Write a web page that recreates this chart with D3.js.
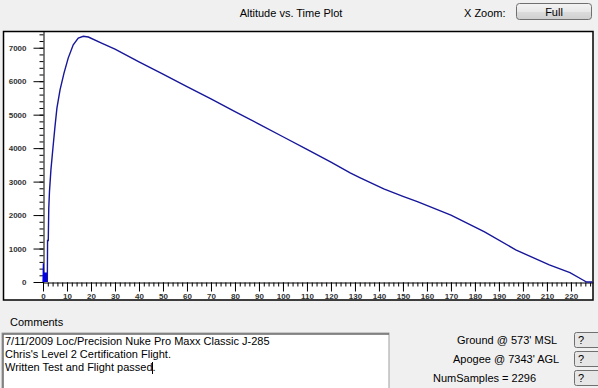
<!DOCTYPE html>
<html>
<head>
<meta charset="utf-8">
<script src="https://cdn.jsdelivr.net/npm/d3@7"></script>
<style>
  body { margin: 0; background: #f0f0f0; }
  svg { display: block; }
</style>
</head>
<body>
<div id="container"></div>
<script>
// flight data (seconds, feet AGL)
let times = [0, 0.15, 0.3, 0.45, 0.6, 0.75, 0.9, 1.05, 1.2, 1.35, 1.5, 1.65, 1.8,
  1.9, 2.2, 2.4, 2.7, 3.3, 4.2, 5.0, 5.8, 7.1, 8.75, 10.5, 12.6, 14.7, 16.8, 18.9,
  24.4, 30, 40, 50, 60, 70, 80, 90, 100, 110, 120, 128, 132, 142, 150, 156, 170,
  184, 197, 211, 219.6, 225, 226.5, 229];
let altitudes = [0, 560, 0, 280, 0, 280, 0, 280, 0, 280, 0, 280, 0,
  1240, 1240, 2200, 2700, 3350, 4050, 4650, 5195, 5740, 6240, 6690, 7090, 7290, 7343, 7320,
  7140, 6960, 6580, 6210, 5840, 5470, 5090, 4720, 4340, 3960, 3580, 3260, 3120, 2780, 2560, 2400, 2000,
  1500, 960, 510, 280, 60, 0, 0];

let xTickLabels = [0, 10, 20, 30, 40, 50, 60, 70, 80, 90, 100, 110, 120, 130, 140, 150, 160, 170, 180, 190, 200, 210, 220];
let yTickLabels = [0, 1000, 2000, 3000, 4000, 5000, 6000, 7000];

let comments = [
  "7/11/2009 Loc/Precision Nuke Pro Maxx Classic J-285",
  "Chris's Level 2 Certification Flight.",
  "Written Test and Flight passed."
];
let statLines = ["Ground @ 573' MSL", "Apogee @ 7343' AGL", "NumSamples = 2296"];

let uiFont = "'Liberation Sans', Arial, sans-serif";
let lineBlue = "#16169a";

let viz = d3.select("#container")
  .append("svg")
    .attr("width", 598)
    .attr("height", 388)
    .style("background-color", "#f0f0f0")
;

// header
viz.append("text")
  .text("Altitude vs. Time Plot")
  .attr("x", 291)
  .attr("y", 17)
  .attr("text-anchor", "middle")
  .attr("font-family", uiFont)
  .attr("font-size", 11)
;
viz.append("text")
  .text("X Zoom:")
  .attr("x", 464)
  .attr("y", 17)
  .attr("font-family", uiFont)
  .attr("font-size", 11)
;

let grad = viz.append("defs").append("linearGradient")
  .attr("id", "btn")
  .attr("x1", 0).attr("y1", 0).attr("x2", 0).attr("y2", 1);
grad.append("stop").attr("offset", "0%").attr("stop-color", "#f4f4f4");
grad.append("stop").attr("offset", "50%").attr("stop-color", "#e8e8e8");
grad.append("stop").attr("offset", "51%").attr("stop-color", "#dcdcdc");
grad.append("stop").attr("offset", "100%").attr("stop-color", "#cfcfcf");

viz.append("rect")
  .attr("x", 516.5)
  .attr("y", 3.5)
  .attr("width", 75)
  .attr("height", 16)
  .attr("rx", 3)
  .attr("fill", "url(#btn)")
  .attr("stroke", "#707070")
;
viz.append("text")
  .text("Full")
  .attr("x", 554)
  .attr("y", 15.5)
  .attr("text-anchor", "middle")
  .attr("font-family", uiFont)
  .attr("font-size", 11)
;

// plot frame
viz.append("rect")
  .attr("x", 3.5)
  .attr("y", 31.5)
  .attr("width", 589.5)
  .attr("height", 268.5)
  .attr("fill", "white")
  .attr("stroke", "black")
  .attr("stroke-width", 1.5)
;

let x = d3.scaleLinear().domain([0, 229.2]).range([43, 593]);
let y = d3.scaleLinear().domain([0, 7500]).range([282, 31]);

let axisStyle = function(g) {
  g.selectAll("path, line").attr("stroke", "#000");
  g.selectAll("text")
    .attr("font-family", uiFont)
    .attr("font-size", 8)
    .attr("font-weight", "bold")
    .attr("fill", "#333");
};

// y axis minor + major
viz.append("g")
  .attr("transform", "translate(43.5,0)")
  .call(d3.axisLeft(y).tickValues(d3.range(0, 7500, 200)).tickSize(4).tickSizeOuter(0).tickFormat(""))
  .call(axisStyle)
;
viz.append("g")
  .attr("transform", "translate(43.5,0)")
  .call(d3.axisLeft(y).tickValues(yTickLabels).tickSize(10).tickSizeOuter(0).tickPadding(7).tickFormat(d3.format("d")))
  .call(axisStyle)
  .call(g => g.select(".domain").remove())
;

// x axis minor + major
viz.append("g")
  .attr("transform", "translate(0,282.5)")
  .call(d3.axisBottom(x).tickValues(d3.range(0, 229, 2)).tickSize(4).tickSizeOuter(0).tickFormat(""))
  .call(axisStyle)
;
viz.append("g")
  .attr("transform", "translate(0,282.5)")
  .call(d3.axisBottom(x).tickValues(xTickLabels).tickSize(9).tickSizeOuter(0).tickPadding(2).tickFormat(d3.format("d")))
  .call(axisStyle)
  .call(g => g.select(".domain").remove())
;

// altitude trace
let pts = times.map((t, i) => [t, altitudes[i]]);
let line = d3.line()
  .x(d => x(d[0]))
  .y(d => y(d[1]));

viz.append("path")
  .datum(pts.slice(0, 13))
  .attr("d", line)
  .attr("fill", "#0000e6")
  .attr("stroke", "#0000e6")
  .attr("stroke-width", 1.2)
;
viz.append("path")
  .datum(pts.slice(12))
  .attr("d", line)
  .attr("fill", "none")
  .attr("stroke", lineBlue)
  .attr("stroke-width", 1.4)
;

// comments
viz.append("text")
  .text("Comments")
  .attr("x", 10)
  .attr("y", 326)
  .attr("font-family", uiFont)
  .attr("font-size", 11)
;
viz.append("rect")
  .attr("x", 2)
  .attr("y", 333)
  .attr("width", 387)
  .attr("height", 60)
  .attr("fill", "white")
  .attr("stroke", "#a0a0a0")
;
viz.append("path")
  .attr("d", "M3,392V334H389")
  .attr("fill", "none")
  .attr("stroke", "#696969")
  .attr("stroke-width", 1.5)
;
viz.selectAll(".comment")
  .data(comments)
  .enter()
  .append("text")
    .attr("class", "comment")
    .text(d => d)
    .attr("x", 5)
    .attr("y", (d, i) => 345 + i * 13)
    .attr("font-family", uiFont)
    .attr("font-size", 11)
;
viz.append("line")
  .attr("x1", 152.5).attr("x2", 152.5)
  .attr("y1", 362).attr("y2", 374)
  .attr("stroke", "black")
;

// stats on the right
let statX = [457, 453, 433];
viz.selectAll(".stat")
  .data(statLines)
  .enter()
  .append("text")
    .attr("class", "stat")
    .text(d => d)
    .attr("x", (d, i) => statX[i])
    .attr("y", (d, i) => 344 + i * 19)
    .attr("font-family", uiFont)
    .attr("font-size", 11)
;
viz.selectAll(".help")
  .data(statLines)
  .enter()
  .append("rect")
    .attr("class", "help")
    .attr("x", 574.5)
    .attr("y", (d, i) => 332.5 + i * 19)
    .attr("width", 30)
    .attr("height", 15)
    .attr("rx", 2)
    .attr("fill", "#e6e6e6")
    .attr("stroke", "#707070")
;
viz.selectAll(".q")
  .data(statLines)
  .enter()
  .append("text")
    .attr("class", "q")
    .text("?")
    .attr("x", 578)
    .attr("y", (d, i) => 344 + i * 19)
    .attr("font-family", uiFont)
    .attr("font-size", 11)
;
</script>
</body>
</html>
